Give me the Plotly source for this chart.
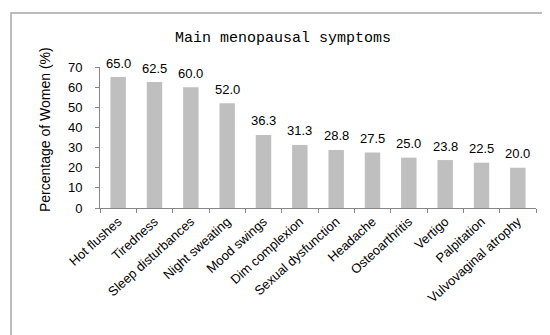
import plotly.graph_objects as go

categories = ["Hot flushes", "Tiredness", "Sleep disturbances", "Night sweating",
              "Mood swings", "Dim complexion", "Sexual dysfunction", "Headache",
              "Osteoarthritis", "Vertigo", "Palpitation", "Vulvovaginal atrophy"]
values = [65.0, 62.5, 60.0, 52.0, 36.3, 31.3, 28.8, 27.5, 25.0, 23.8, 22.5, 20.0]
y_ticks = [0, 10, 20, 30, 40, 50, 60, 70]

title_text = "Main menopausal symptoms"
y_title = "Percentage of Women (%)"

L, R, T, B = 92, 22, 59, 135
W, H = 550, 335
pw, ph = W - L - R, H - T - B

def px_x(p):
    return (p - L) / pw

def px_y(p):
    return (H - B - p) / ph

fig = go.Figure()
fig.add_trace(go.Bar(
    x=categories, y=values,
    marker=dict(color="#bfbfbf", line=dict(width=0)),
    hoverinfo="x+y",
))

annotations = [
    dict(x=c, y=v, text=f"{v:.1f}", showarrow=False, yshift=14,
         font=dict(family="Liberation Sans", size=13, color="#000000"),
         xref="x", yref="y")
    for c, v in zip(categories, values)
]
annotations.append(dict(
    x=px_x(275), y=px_y(30), xref="paper", yref="paper", text=title_text,
    showarrow=False, font=dict(family="Liberation Mono", size=15, color="#000000"),
    xanchor="center", yanchor="middle"))
annotations.append(dict(
    x=px_x(37), y=px_y(122), xref="paper", yref="paper", text=y_title, textangle=-90,
    showarrow=False, font=dict(family="Liberation Sans", size=14, color="#000000"),
    xanchor="center", yanchor="middle"))

fig.update_layout(
    width=W, height=H,
    margin=dict(l=L, r=R, t=T, b=B, autoexpand=False),
    paper_bgcolor="white", plot_bgcolor="white",
    showlegend=False,
    bargap=0.575,
    annotations=annotations,
    shapes=[dict(type="rect", xref="paper", yref="paper",
                 x0=px_x(3), x1=px_x(546), y0=px_y(329.5), y1=px_y(5),
                 line=dict(color="#a6a6a6", width=1.5), fillcolor="rgba(0,0,0,0)", layer="below")],
    xaxis=dict(
        type="category", showline=True, linecolor="#868686", linewidth=1,
        ticks="outside", tickson="boundaries", ticklen=4, tickcolor="#868686",
        tickangle=-42, tickfont=dict(family="Liberation Sans", size=13, color="#000000"),
        showgrid=False, zeroline=False, automargin=False,
    ),
    yaxis=dict(
        range=[0, 70], tickvals=y_ticks, showline=True, linecolor="#868686", linewidth=1,
        ticks="outside", ticklen=4, tickcolor="#868686", ticklabelstandoff=10,
        tickfont=dict(family="Liberation Sans", size=13, color="#000000"),
        showgrid=False, zeroline=False, automargin=False,
    ),
)

fig.write_html("out.html")
